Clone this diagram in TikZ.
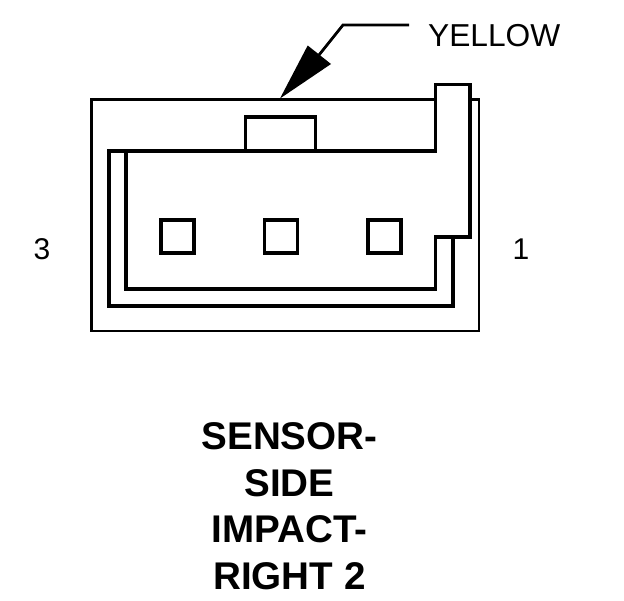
\documentclass[tikz,border=0pt]{standalone}
\usepackage{fontspec}
\setmainfont{Liberation Sans}
\tikzset{
	thinwall/.style={line width=2.9pt},
	thickwall/.style={line width=3.4pt, line join=miter},
	pin/.style={rectangle, draw, line width=3.4pt, minimum size=33pt, inner sep=0pt},
	wirecode/.style={font=\fontsize{31.7}{31.7}\selectfont, anchor=base west, inner sep=0pt},
	pinnum/.style={font=\fontsize{30}{30}\selectfont, anchor=base, inner sep=0pt},
	caption/.style={font=\fontsize{38.6}{38.6}\selectfont\bfseries, anchor=base, inner sep=0pt}
}
\begin{document}
\begin{tikzpicture}[x=1pt,y=-1pt]
\useasboundingbox(0,0)rectangle(624,600);
\draw[thinwall](91.5,99.5)rectangle(479,331);
\draw[thickwall, fill=white](109,151)to(435.5,151)to(435.5,84.5)to(470,84.5)to(470,237)to(453,237)to(453,306)to(109,306)--cycle;
\draw[thickwall](126,151)to(126,289)to(435.5,289)to(435.5,237)to(453,237);
\draw[thickwall](245.5,151)to(245.5,117)to(315.5,117)to(315.5,151);
\foreach \name/\xpos in {pinc/177.5,pinb/281,pina/384.5}
	\node[pin](\name)at(\xpos,236.5){};
% leader to the cavity
\node[wirecode](yellow)at(428,46){YELLOW};
\coordinate(lead) at(409,25);
\coordinate(bend) at(343,25);
\coordinate(tail) at(319,55);
\draw[line width=2.8pt](lead)to(bend)to(tail);
\fill(280,98.5)to(307.7,45.5)to(331,64)--cycle;
\node[pinnum](numc)at(42,259){3};
\node[pinnum](numa)at(521,259){1};
\node[caption](capa)at(289.5,449){SENSOR-};
\node[caption](capb)at(289.5,496){SIDE};
\node[caption](capc)at(289.5,542.5){IMPACT-};
\node[caption](capd)at(289.5,589){RIGHT 2};
\end{tikzpicture}
\end{document}
